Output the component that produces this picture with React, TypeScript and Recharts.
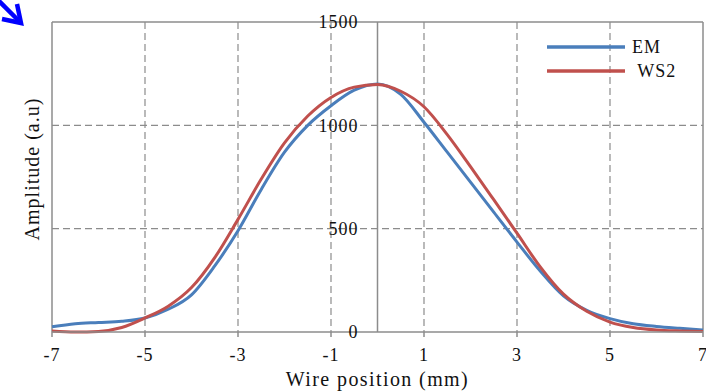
import {
  LineChart, Line, XAxis, YAxis, CartesianGrid, Legend, ReferenceLine, ReferenceDot, Label,
} from 'recharts'

const positions = [
  -7, -6.5, -6, -5.5, -5, -4.5, -4, -3.5, -3, -2.5, -2, -1.5, -1, -0.5, 0,
  0.5, 1, 1.5, 2, 2.5, 3, 3.5, 4, 4.5, 5, 5.5, 6, 6.5, 7,
]
const emValues = [
  25, 40, 46, 52, 68, 110, 180, 320, 490, 690, 870, 1000, 1095, 1170, 1200,
  1150, 1015, 870, 725, 580, 435, 295, 175, 105, 65, 40, 27, 18, 10,
]
const ws2Values = [
  5, 0, 3, 22, 68, 125, 215, 360, 545, 740, 915, 1045, 1135, 1185, 1198,
  1165, 1090, 955, 800, 640, 478, 315, 183, 100, 48, 22, 10, 5, 2,
]
const xTicks = [-7, -5, -3, -1, 1, 3, 5, 7]
const xMinorTicks = Array.from({ length: 36 }, (_, i) => Math.round((-7 + i * 0.4) * 10) / 10)
const yTicks = [0, 500, 1000, 1500]
const yGridValues = [500, 1000]
const seriesNames = ['EM', ' WS2']
const seriesColors = ['#4a7ebb', '#c0504d']

const data = positions.map((x, i) => ({ x, em: emValues[i], ws2: ws2Values[i] }))

const FONT = "'Liberation Serif', 'DejaVu Serif', serif"
const GRID = '#8c8c8c'
const textStyle = { fontFamily: FONT, fill: '#111' }

const XTick = ({ x, y, payload }: any) => (
  <text x={x} y={y + 22} textAnchor="middle" fontSize={18} letterSpacing={1} style={textStyle}>
    {payload.value}
  </text>
)

const renderLegend = ({ payload }: any) => (
  <svg width={160} height={50}>
    {(payload || []).map((p: any, i: number) => (
      <g key={i}>
        <line x1={2} x2={80} y1={12 + i * 24} y2={12 + i * 24} stroke={p.color} strokeWidth={3.5} />
        <text x={87} y={18 + i * 24} fontSize={18} letterSpacing={1} style={{ ...textStyle, whiteSpace: 'pre' }}>
          {p.value}
        </text>
      </g>
    ))}
  </svg>
)

export default function App() {
  return (
    <div style={{ position: 'absolute', left: 0, top: 0, width: 706, height: 392, background: '#fff' }}>
      <svg width={28} height={28} style={{ position: 'absolute', left: 0, top: 0 }}>
        <line x1={-2} y1={0} x2={19} y2={21} stroke="#0000ff" strokeWidth={4.5} />
        <polyline points="2,19 21,23 17,4" fill="none" stroke="#0000ff" strokeWidth={4.5} strokeLinejoin="miter" />
      </svg>
      <LineChart width={706} height={392} data={data} margin={{ top: 22, right: 3, bottom: 0, left: 52 }}>
        <CartesianGrid
          stroke={GRID}
          strokeDasharray="7 4"
          strokeWidth={1.2}
          horizontal={false}
          verticalValues={[-5, -3, -1, 1, 3, 5]}
        />
        {yGridValues.map((v) => (
          <ReferenceLine key={v} y={v} stroke={GRID} strokeDasharray="7 4" strokeWidth={1.2} />
        ))}
        <XAxis
          xAxisId="minor"
          dataKey="x"
          type="number"
          domain={[-7, 7]}
          ticks={xMinorTicks}
          interval={0}
          height={0}
          mirror
          axisLine={false}
          tickSize={5}
          tickLine={{ stroke: GRID, strokeWidth: 1.3 }}
          tick={() => <g />}
        />
        <XAxis
          dataKey="x"
          type="number"
          domain={[-7, 7]}
          ticks={xTicks}
          interval={0}
          height={60}
          tickSize={5}
          tickMargin={2}
          axisLine={{ stroke: GRID, strokeWidth: 1.5 }}
          tickLine={{ stroke: GRID, strokeWidth: 1.5 }}
          tick={<XTick />}
        >
          <Label
            content={({ viewBox }: any) => (
              <text x={viewBox.x + viewBox.width / 2} y={viewBox.y + 54} textAnchor="middle" fontSize={20} letterSpacing={1.4} style={textStyle}>
                Wire position (mm)
              </text>
            )}
          />
        </XAxis>
        <YAxis type="number" domain={[0, 1500]} ticks={yTicks} width={0} axisLine={false} tickLine={false} tick={false} />
        <ReferenceLine y={1500} stroke={GRID} strokeWidth={1.5} />
        <ReferenceLine x={-7} stroke={GRID} strokeWidth={1.5}>
          <Label
            content={({ viewBox }: any) => {
              const cx = viewBox.x - 20
              const cy = viewBox.y + viewBox.height / 2 - 8
              return (
                <text x={cx} y={cy} transform={`rotate(-90 ${cx} ${cy})`} textAnchor="middle" dominantBaseline="central" fontSize={20} letterSpacing={1} style={textStyle}>
                  Amplitude (a.u)
                </text>
              )
            }}
          />
        </ReferenceLine>
        <ReferenceLine x={7} stroke={GRID} strokeWidth={1.5} />
        <ReferenceLine x={0} stroke={GRID} strokeWidth={1.5} />
        {yTicks.map((v) => (
          <ReferenceDot
            key={v}
            x={0}
            y={v}
            r={0}
            fill="none"
            stroke="none"
            label={{ value: String(v), position: 'left', offset: 19, fontSize: 18, letterSpacing: 1, fill: '#111', style: { fontFamily: FONT } }}
          />
        ))}
        <Line type="monotone" dataKey="em" name={seriesNames[0]} stroke={seriesColors[0]} strokeWidth={3} dot={false} isAnimationActive={false} />
        <Line type="monotone" dataKey="ws2" name={seriesNames[1]} stroke={seriesColors[1]} strokeWidth={3} dot={false} isAnimationActive={false} />
        <Legend
          layout="vertical"
          align="center"
          verticalAlign="middle"
          itemSorter="dataKey"
          wrapperStyle={{ left: 545, top: 35, width: 160, height: 50 }}
          content={renderLegend}
        />
      </LineChart>
    </div>
  )
}
